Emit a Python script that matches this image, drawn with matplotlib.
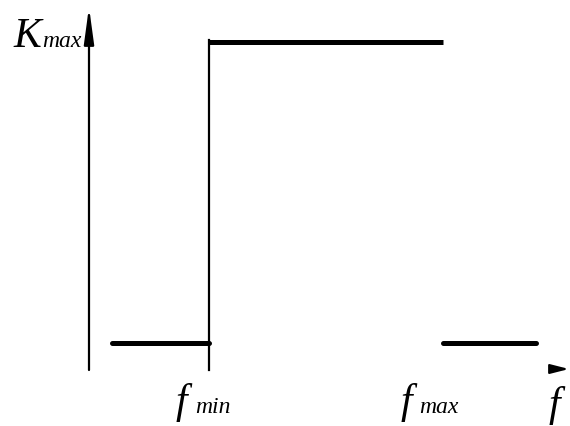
import matplotlib.pyplot as plt

# step characteristic: K level vs frequency (drawing units)
f_start, f_min, f_max, f_end = 112, 209, 443, 536
k_low, k_high = 344, 43
y_axis_x, axis_bottom, axis_top = 89, 371, 8

fig = plt.figure(figsize=(5.7, 4.27), dpi=100)
ax = fig.add_axes([0, 0, 1, 1])
ax.set_xlim(0, 570)
ax.set_ylim(427, 0)
ax.axis('off')

# y axis with arrow
ax.annotate('', xy=(y_axis_x, axis_top), xytext=(y_axis_x, axis_bottom),
            arrowprops=dict(arrowstyle='-|>,head_length=2.2,head_width=0.3',
                            color='black', lw=1.6, shrinkA=0, shrinkB=0))
# x axis arrow head only
ax.annotate('', xy=(569, 370), xytext=(553, 370),
            arrowprops=dict(arrowstyle='-|>,head_length=1.1,head_width=0.28',
                            color='black', lw=1.6, shrinkA=0, shrinkB=0))

# characteristic
ax.plot([f_start, f_min], [k_low, k_low], color='black', lw=3.6, solid_capstyle='round')
ax.plot([f_min, f_max], [k_high, k_high], color='black', lw=3.6, solid_capstyle='butt')
ax.plot([f_max, f_end], [k_low, k_low], color='black', lw=3.6, solid_capstyle='round')
ax.plot([f_min, f_min], [k_high - 2, axis_bottom], color='black', lw=1.6)

font = dict(family='Liberation Serif', style='italic', color='black')
ax.text(13, 47, 'K', fontsize=30, va='baseline', **font)
ax.text(42, 47, 'max', fontsize=17, va='baseline', **font)
ax.text(176, 413, 'f', fontsize=30, va='baseline', **font)
ax.text(195, 413, 'min', fontsize=17, va='baseline', **font)
ax.text(401, 413, 'f', fontsize=30, va='baseline', **font)
ax.text(419, 413, 'max', fontsize=17, va='baseline', **font)
ax.text(549, 416, 'f', fontsize=30, va='baseline', **font)

fig.savefig('out.png', dpi=100)
